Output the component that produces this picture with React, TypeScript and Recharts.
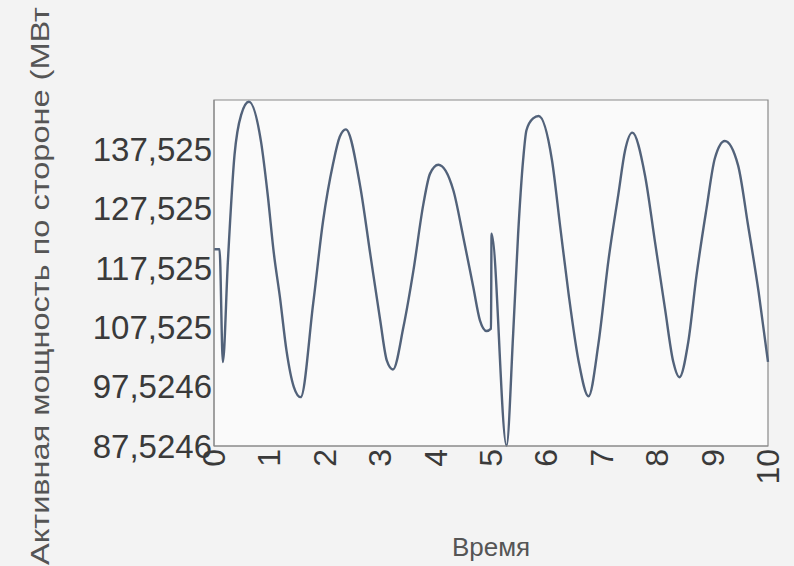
import React, { FC } from "react";
import { LineChart, Line, XAxis, YAxis, CartesianGrid, Label, ReferenceArea } from "recharts";

// time, s
const times = [
	0, 0.1, 0.16, 0.25, 0.37, 0.49, 0.63, 0.85, 0.97, 1.08, 1.19, 1.31, 1.44, 1.565,
	1.79, 1.97, 2.15, 2.27, 2.38, 2.64, 2.82, 3.0, 3.12, 3.23, 3.42, 3.6, 3.78, 3.9,
	4.05, 4.32, 4.5, 4.68, 4.8, 4.92, 5.0, 5.01, 5.28, 5.4, 5.49, 5.58, 5.64, 5.76,
	5.86, 6.1, 6.25, 6.4, 6.58, 6.76, 6.94, 7.12, 7.3, 7.42, 7.55, 7.78, 7.96, 8.14,
	8.29, 8.4, 8.56, 8.71, 8.89, 9.04, 9.22, 9.46, 9.64, 9.83, 10
];

// active power, MW
const power = [
	120.66, 120.66, 101.65, 118.5, 136.5, 143.3, 145.5, 138.7, 129.8, 120, 112.6, 103.5, 97.5, 95.75,
	111.5, 125.5, 135.1, 139.6, 140.85, 131.2, 119.9, 108.7, 101.9, 100.4, 107.6, 117.1, 128.3, 133.4,
	134.9, 130.6, 122.7, 114.3, 108.7, 106.9, 107.3, 123.3, 87.6, 106.4, 123.3, 135.7, 140.7, 142.7,
	143.1, 135.7, 124.4, 113.2, 101.9, 95.9, 104.8, 118.8, 130.0, 137.3, 140.3, 133.1, 121.9, 110.7,
	101.7, 99.1, 105.0, 116.3, 127.5, 135.95, 138.9, 134.8, 124.7, 113.5, 101.7
];

const xTicks = [0, 1, 2, 3, 4, 5, 6, 7, 8, 9, 10];
const yTicks = [87.5246, 97.5246, 107.525, 117.525, 127.525, 137.525];
const yTickLabels = ["87,5246", "97,5246", "107,525", "117,525", "127,525", "137,525"];

const data = times.map((t, i) => ({ t, p: power[i] }));

const FONT = "'Liberation Sans', Arial, sans-serif";
const Y_MIN = 87.5246;
const Y_MAX = 145.8;

const XTick: FC<any> = ({ x, y, payload }) => (
	<text
		x={x}
		y={y}
		transform={`rotate(-90, ${x}, ${y})`}
		textAnchor="end"
		dominantBaseline="central"
		fontSize={32}
		fontFamily={FONT}
		fill="#3a3a3a"
	>
		{payload.value}
	</text>
);

const App: FC = () => {
	return (
		<div style={{ position: "fixed", left: 0, top: 0, width: 794, height: 566, background: "#f3f3f3" }}>
			<LineChart
				width={794}
				height={566}
				data={data}
				margin={{ top: 100, right: 26, left: 0, bottom: 0 }}
			>
				<CartesianGrid horizontal={false} vertical={false} fill="#fafafa" />
				<XAxis
					dataKey="t"
					type="number"
					domain={[0, 10]}
					ticks={xTicks}
					height={120}
					tickSize={0}
					tickMargin={3}
					interval={0}
					tick={<XTick />}
					stroke="#8a8a8a"
				>
					<Label
						content={() => (
							<text x={491} y={556} textAnchor="middle" fontSize={26} fontFamily={FONT} fill="#555">
								Время
							</text>
						)}
					/>
				</XAxis>
				<YAxis
					type="number"
					domain={[Y_MIN, Y_MAX]}
					ticks={yTicks}
					width={214}
					tickSize={0}
					tickMargin={2}
					interval={0}
					tickFormatter={(v: number, i: number) => yTickLabels[i]}
					tick={{ fontSize: 33, fontFamily: FONT, fill: "#3a3a3a" }}
					stroke="#8a8a8a"
				>
					<Label
						content={() => (
							<text
								x={49}
								y={565}
								transform="rotate(-90, 49, 565)"
								textAnchor="start"
								fontSize={25}
								fontFamily={FONT}
								fill="#555"
								textLength={558}
								lengthAdjust="spacingAndGlyphs"
							>
								Активная мощность по стороне (МВт
							</text>
						)}
					/>
				</YAxis>
				<ReferenceArea
					x1={0}
					x2={10}
					y1={Y_MIN}
					y2={Y_MAX}
					fill="none"
					stroke="#8a8a8a"
					strokeWidth={1.2}
					ifOverflow="visible"
				/>
				<Line
					type="monotone"
					dataKey="p"
					stroke="#52627a"
					strokeWidth={2.4}
					dot={false}
					isAnimationActive={false}
				/>
			</LineChart>
		</div>
	);
};

export default App;
